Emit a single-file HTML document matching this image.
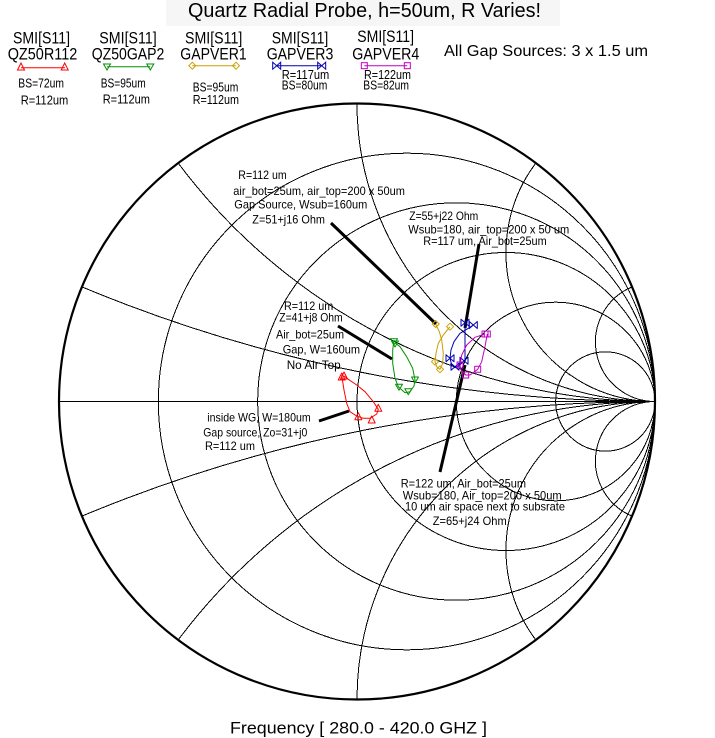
<!DOCTYPE html>
<html><head><meta charset="utf-8"><style>
html,body{margin:0;padding:0;background:#fff;width:715px;height:738px;overflow:hidden;}
svg{display:block;}
text{font-family:"Liberation Sans",Arial,sans-serif;fill:#000;}
</style></head><body>
<svg width="715" height="738" viewBox="0 0 715 738" xmlns="http://www.w3.org/2000/svg">
<rect width="715" height="738" fill="#fff"/>
<rect x="166" y="0" width="394" height="26" fill="#f6f6f6"/>
<text x="188" y="16.9" font-size="20" textLength="353" lengthAdjust="spacingAndGlyphs">Quartz Radial Probe, h=50um, R Varies!</text>

<!-- Legend -->
<g font-size="16.5">
<text x="13" y="43.5" textLength="57" lengthAdjust="spacingAndGlyphs">SMI[S11]</text>
<text x="7.7" y="59.3" textLength="69.6" lengthAdjust="spacingAndGlyphs">QZ50R112</text>
<text x="99.3" y="43.5" textLength="57.4" lengthAdjust="spacingAndGlyphs">SMI[S11]</text>
<text x="91.7" y="59.3" textLength="72.6" lengthAdjust="spacingAndGlyphs">QZ50GAP2</text>
<text x="185" y="43.5" textLength="57.3" lengthAdjust="spacingAndGlyphs">SMI[S11]</text>
<text x="180.3" y="59.3" textLength="66.4" lengthAdjust="spacingAndGlyphs">GAPVER1</text>
<text x="271.7" y="43.5" textLength="56.6" lengthAdjust="spacingAndGlyphs">SMI[S11]</text>
<text x="266.7" y="59.3" textLength="66.6" lengthAdjust="spacingAndGlyphs">GAPVER3</text>
<text x="357.3" y="42" textLength="56.7" lengthAdjust="spacingAndGlyphs">SMI[S11]</text>
<text x="352.3" y="59.3" textLength="67" lengthAdjust="spacingAndGlyphs">GAPVER4</text>
</g>
<g font-size="12.5">
<text x="18.3" y="87.3" textLength="45.7" lengthAdjust="spacingAndGlyphs">BS=72um</text>
<text x="20.7" y="104.3" textLength="47.6" lengthAdjust="spacingAndGlyphs">R=112um</text>
<text x="100.7" y="87.3" textLength="45" lengthAdjust="spacingAndGlyphs">BS=95um</text>
<text x="102.7" y="103.3" textLength="47.3" lengthAdjust="spacingAndGlyphs">R=112um</text>
<text x="192.7" y="91.7" textLength="45.6" lengthAdjust="spacingAndGlyphs">BS=95um</text>
<text x="192.7" y="104" textLength="46.3" lengthAdjust="spacingAndGlyphs">R=112um</text>
<text x="281.7" y="79" textLength="47.6" lengthAdjust="spacingAndGlyphs">R=117um</text>
<text x="281.7" y="89.3" textLength="45.6" lengthAdjust="spacingAndGlyphs">BS=80um</text>
<text x="364" y="79" textLength="47" lengthAdjust="spacingAndGlyphs">R=122um</text>
<text x="363.3" y="89.3" textLength="45.7" lengthAdjust="spacingAndGlyphs">BS=82um</text>
</g>
<text x="444" y="56" font-size="15.5" textLength="204" lengthAdjust="spacingAndGlyphs">All Gap Sources: 3 x 1.5 um</text>

<!-- legend lines & markers -->
<g fill="none" stroke-width="1">
<line x1="21" y1="67.7" x2="65" y2="67.7" stroke="#ff0000"/>
<polygon points="17.5,70 21,63 24.5,70" stroke="#ff0000"/>
<polygon points="61.2,70 64.7,63 68.2,70" stroke="#ff0000"/>
<line x1="107" y1="66.7" x2="150.3" y2="66.7" stroke="#009000"/>
<polygon points="103.5,64 110.5,64 107,70" stroke="#009000"/>
<polygon points="146.8,64 153.8,64 150.3,70" stroke="#009000"/>
<line x1="192.3" y1="65.7" x2="236" y2="65.7" stroke="#c8a000"/>
<polygon points="192.3,62.2 195.8,65.7 192.3,69.2 188.8,65.7" stroke="#c8a000"/>
<polygon points="236,62.2 239.5,65.7 236,69.2 232.5,65.7" stroke="#c8a000"/>
<line x1="276.7" y1="65.7" x2="321.7" y2="65.7" stroke="#0000b0"/>
<path d="M272.7,62.2V69.2L280.7,62.2V69.2Z M317.7,62.2V69.2L325.7,62.2V69.2Z" stroke="#0000b0"/>
<line x1="364.3" y1="65.7" x2="407.3" y2="65.7" stroke="#c000c0"/>
<rect x="361.3" y="62.7" width="6" height="6" stroke="#c000c0"/>
<rect x="404.3" y="62.7" width="6" height="6" stroke="#c000c0"/>
</g>

<!-- Smith chart grid -->
<g fill="none" stroke="#000" stroke-width="1" shape-rendering="crispEdges">
<circle cx="406.67" cy="401.5" r="248.33"/>
<circle cx="456.33" cy="401.5" r="198.67"/>
<circle cx="506" cy="401.5" r="149"/>
<circle cx="555.67" cy="401.5" r="99.33"/>
<circle cx="605.33" cy="401.5" r="49.67"/>
<path d="M81.92,286.9 A1490,1490 0 0 0 655,401.5"/>
<path d="M178.2,163.1 A596,596 0 0 0 655,401.5"/>
<path d="M357,103.5 A298,298 0 0 0 655,401.5"/>
<path d="M535.8,163.1 A149,149 0 0 0 655,401.5"/>
<path d="M632.08,286.9 A59.6,59.6 0 0 0 655,401.5"/>
<path d="M81.92,516.1 A1490,1490 0 0 1 655,401.5"/>
<path d="M178.2,639.9 A596,596 0 0 1 655,401.5"/>
<path d="M357,699.5 A298,298 0 0 1 655,401.5"/>
<path d="M535.8,639.9 A149,149 0 0 1 655,401.5"/>
<path d="M632.08,516.1 A59.6,59.6 0 0 1 655,401.5"/>
<line x1="59" y1="401.5" x2="655" y2="401.5"/>
</g>
<circle cx="357" cy="401.5" r="298" fill="none" stroke="#000" stroke-width="2.2"/>

<!-- Annotations -->
<g font-size="12">
<text x="238.3" y="179" textLength="48.4" lengthAdjust="spacingAndGlyphs">R=112 um</text>
<text x="233.3" y="195" textLength="171.7" lengthAdjust="spacingAndGlyphs">air_bot=25um, air_top=200 x 50um</text>
<text x="234.3" y="208.3" textLength="133" lengthAdjust="spacingAndGlyphs">Gap Source, Wsub=160um</text>
<text x="252.3" y="223.3" textLength="72.7" lengthAdjust="spacingAndGlyphs">Z=51+j16 Ohm</text>

<text x="409.3" y="220" textLength="69" lengthAdjust="spacingAndGlyphs">Z=55+j22 Ohm</text>
<text x="408.3" y="233.3" textLength="161" lengthAdjust="spacingAndGlyphs">Wsub=180, air_top=200 x 50 um</text>
<text x="423.3" y="245" textLength="123.4" lengthAdjust="spacingAndGlyphs">R=117 um, Air_bot=25um</text>

<text x="284" y="310" textLength="49.3" lengthAdjust="spacingAndGlyphs">R=112 um</text>
<text x="279.3" y="321.7" textLength="63.4" lengthAdjust="spacingAndGlyphs">Z=41+j8 Ohm</text>
<text x="276" y="338.3" textLength="68" lengthAdjust="spacingAndGlyphs">Air_bot=25um</text>
<text x="282.7" y="353.3" textLength="77.3" lengthAdjust="spacingAndGlyphs">Gap, W=160um</text>
<text x="286.7" y="369" textLength="54" lengthAdjust="spacingAndGlyphs">No Air Top</text>

<text x="207.3" y="421.7" textLength="103.4" lengthAdjust="spacingAndGlyphs">inside WG, W=180um</text>
<text x="203.3" y="436.7" textLength="104" lengthAdjust="spacingAndGlyphs">Gap source, Zo=31+j0</text>
<text x="205" y="450" textLength="50" lengthAdjust="spacingAndGlyphs">R=112 um</text>

<text x="400.7" y="487.3" textLength="125.3" lengthAdjust="spacingAndGlyphs">R=122 um, Air_bot=25um</text>
<text x="402.7" y="499.3" textLength="159" lengthAdjust="spacingAndGlyphs">Wsub=180, Air_top=200 x 50um</text>
<text x="405" y="510.7" textLength="160" lengthAdjust="spacingAndGlyphs">10 um air space next to subsrate</text>
<text x="432.7" y="525" textLength="74" lengthAdjust="spacingAndGlyphs">Z=65+j24 Ohm</text>
</g>

<!-- pointer lines -->
<g stroke="#000" stroke-width="3" stroke-linecap="butt">
<line x1="331" y1="223" x2="436" y2="324"/>
<line x1="479" y1="244" x2="465" y2="328"/>
<line x1="338" y1="326" x2="392" y2="359"/>
<line x1="319" y1="421" x2="349" y2="411"/>
<line x1="465" y1="365" x2="440" y2="472"/>
</g>

<!-- Traces -->
<g fill="none" stroke-width="1" stroke-linejoin="round">
<polyline stroke="#ff0000" points="341.7,375 342.7,381.7 344,390 346.7,403.3 350,411.7 356.7,416 363.3,418.3 370,418.3 376.7,414 378.3,409.3 373.3,401.7 365,391.7 356.7,385 348.3,379.3 344,376"/>
<polygon stroke="#ff0000" points="338.2,380 341.7,373 345.2,380"/>
<polygon stroke="#ff0000" points="340.5,379 344,372 347.5,379"/>
<polygon stroke="#ff0000" points="374.8,411.3 378.3,404.3 381.8,411.3"/>
<polygon stroke="#ff0000" points="354.8,419.7 358.3,412.7 361.8,419.7"/>
<polygon stroke="#ff0000" points="368.2,423 371.7,416 375.2,423"/>

<polyline stroke="#009000" points="394,340 392.7,350 392.7,363.3 395,378.3 398.3,386.7 405,392.7 410,391.7 414,386 415,380 412.7,368.3 406.7,356.7 400,346.7 395,342.7"/>
<polygon stroke="#009000" points="390.5,338.7 397.5,338.7 394,344.7"/>
<polygon stroke="#009000" points="391.5,341 398.5,341 395,347"/>
<polygon stroke="#009000" points="411.5,377 418.5,377 415,383"/>
<polygon stroke="#009000" points="395.5,384.3 402.5,384.3 399,390.3"/>
<polygon stroke="#009000" points="404.8,388.7 411.8,388.7 408.3,394.7"/>

<polyline stroke="#c8a000" points="435.7,324 439.3,331.7 441.7,340 443.3,353.3 442.7,363.3 440,369.3 436.7,366.7 435,361.7 436,353.3 438.3,343.3 443.3,335 450,326.7"/>
<polygon stroke="#c8a000" points="435.7,320.5 439.2,324 435.7,327.5 432.2,324"/>
<polygon stroke="#c8a000" points="450,323.2 453.5,326.7 450,330.2 446.5,326.7"/>
<polygon stroke="#c8a000" points="435,358.2 438.5,361.7 435,365.2 431.5,361.7"/>
<polygon stroke="#c8a000" points="440,365.8 443.5,369.3 440,372.8 436.5,369.3"/>

<line x1="465" y1="322.7" x2="465" y2="361.7" stroke="#0000b0"/>
<polyline stroke="#0000b0" points="473.3,325 468.3,328.3 460,333.3 454,341.7 451,350 450,358.3 451.7,365 455,367.7 460,365 464,360.7"/>
<path stroke="#0000b0" d="M461,319.2V326.2L469,319.2V326.2Z M469.3,321.5V328.5L477.3,321.5V328.5Z M446,354.8V361.8L454,354.8V361.8Z M451,363.2V370.2L459,363.2V370.2Z M460,357.2V364.2L468,357.2V364.2Z"/>

<polyline stroke="#c000c0" points="487.3,334 485,346.7 481.7,361.7 477.7,369.3 470,375 465.7,375 460.7,369.3 460,365 461.7,355 466.7,345 475,337.3 485,334"/>
<rect stroke="#c000c0" x="482" y="331" width="6" height="6"/>
<rect stroke="#c000c0" x="484.3" y="331" width="6" height="6"/>
<rect stroke="#c000c0" x="457" y="362" width="6" height="6"/>
<rect stroke="#c000c0" x="462.7" y="372" width="6" height="6"/>
<rect stroke="#c000c0" x="474.7" y="366.3" width="6" height="6"/>
</g>

<text x="230" y="733.6" font-size="17" textLength="257" lengthAdjust="spacingAndGlyphs">Frequency [ 280.0 - 420.0 GHZ ]</text>
</svg>
</body></html>
